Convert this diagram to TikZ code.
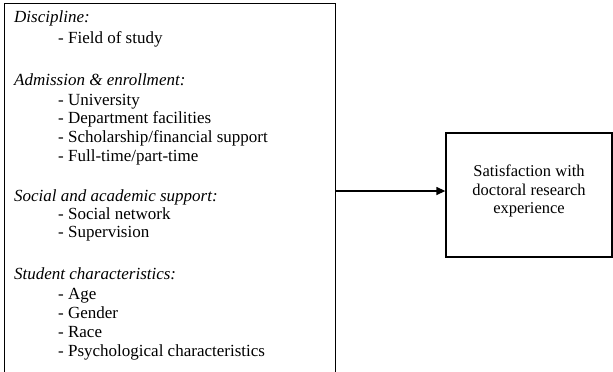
\documentclass[tikz,border=0pt]{standalone}
\usepackage{fontspec}
\setmainfont{Liberation Serif}
\usetikzlibrary{arrows.meta}
\begin{document}
\begin{tikzpicture}[x=1pt,y=-1pt,
  frame/.style={draw=black, line width=1.3pt, inner sep=0pt},
  head/.style={anchor=base west, inner sep=0pt, font=\fontsize{17}{19}\selectfont\itshape},
  item/.style={anchor=base west, inner sep=0pt, font=\fontsize{17}{19}\selectfont},
  link/.style={line width=1.3pt, -{Triangle[length=9pt,width=8pt]}}]
\useasboundingbox (0,0) rectangle (613,372);
\node[frame, anchor=north west, minimum width=331pt, minimum height=390pt] (left) at (4,3) {};
\node[frame, minimum width=166pt, minimum height=124pt] (right) at (529,195) {};
\node[align=center, inner sep=0pt, font=\fontsize{16.5}{18.5}\selectfont] (rt) at (529,191)
  {Satisfaction with\\doctoral research\\experience};
\coordinate (a) at (335,191);
\draw[link] (left.east |- a) -- (right.west |- a);
\node[head] (h1) at (14,22) {Discipline:};
\node[item] (i11) at (58,43) {- Field of study};
\node[head] (h2) at (14,85) {Admission \& enrollment:};
\node[item] (i21) at (58,105) {- University};
\node[item] (i22) at (58,123) {- Department facilities};
\node[item] (i23) at (58,142) {- Scholarship/financial support};
\node[item] (i24) at (58,161) {- Full-time/part-time};
\node[head] (h3) at (14,201) {Social and academic support:};
\node[item] (i31) at (58,219) {- Social network};
\node[item] (i32) at (58,237) {- Supervision};
\node[head] (h4) at (14,279) {Student characteristics:};
\node[item] (i41) at (58,299) {- Age};
\node[item] (i42) at (58,318) {- Gender};
\node[item] (i43) at (58,337) {- Race};
\node[item] (i44) at (58,356) {- Psychological characteristics};
\end{tikzpicture}
\end{document}
